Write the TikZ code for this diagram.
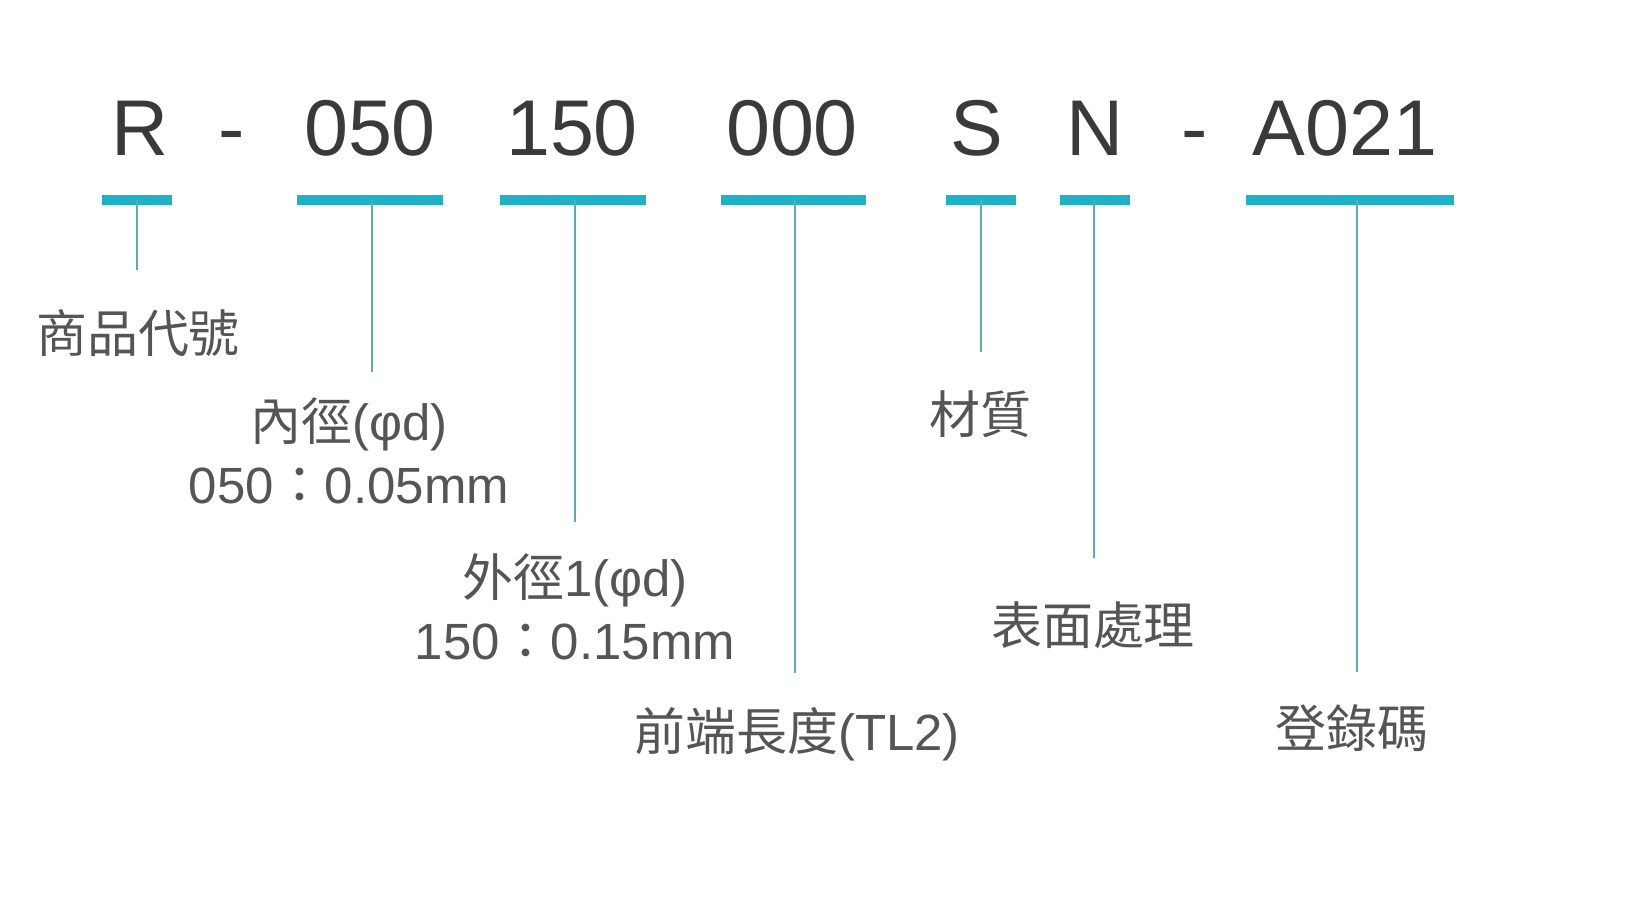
\documentclass[tikz,border=0pt]{standalone}
\usepackage{fontspec}
\setmainfont{Liberation Sans}
\newfontfamily\cjk{Noto Sans CJK TC}
\usetikzlibrary{positioning}
\definecolor{barcyan}{HTML}{1CB2C8}
\definecolor{tickteal}{HTML}{5BA9BA}
\definecolor{labelgray}{HTML}{555555}
\definecolor{codegray}{HTML}{3A3A3A}

\begin{document}
\begin{tikzpicture}[x = 0.02cm, y = -0.02cm,
  code/.style = {text = codegray, anchor = base, inner sep = 0pt, font = \fontsize{45}{54}\selectfont},
  bar/.style = {fill = barcyan, shape = rectangle, inner sep = 0pt, minimum height = 0.2cm},
  tick/.style = {draw = tickteal, line width = 1pt},
  label/.style = {text = labelgray, align = center, inner sep = 0pt, font = \fontsize{29}{36}\selectfont}]
\useasboundingbox (0,0) rectangle (1651,916);
% the code
\node[code] (cR)    at (140,155)  {R};
\node[code] (dash1) at (232,155)  {-};
\node[code] (c050)  at (370,155)  {050};
\node[code] (c150)  at (572,155)  {150};
\node[code] (c000)  at (792,155)  {000};
\node[code] (cS)    at (977,155)  {S};
\node[code] (cN)    at (1095,155) {N};
\node[code] (dash2) at (1195,155) {-};
\node[code] (cA021) at (1345,155) {A021};
% the bars under it
\node[bar, minimum width = 1.4cm]  (bR)    at (137,200)    {};
\node[bar, minimum width = 2.92cm] (b050)  at (370,200)    {};
\node[bar, minimum width = 2.92cm] (b150)  at (573,200)    {};
\node[bar, minimum width = 2.9cm]  (b000)  at (793.5,200)  {};
\node[bar, minimum width = 1.4cm]  (bS)    at (981,200)    {};
\node[bar, minimum width = 1.4cm]  (bN)    at (1095,200)   {};
\node[bar, minimum width = 4.16cm] (bA021) at (1350,200)   {};
% where the ticks end
\coordinate (eR)    at (137,270);
\coordinate (e050)  at (372,372);
\coordinate (e150)  at (575,522);
\coordinate (e000)  at (795,673);
\coordinate (eS)    at (981,352);
\coordinate (eN)    at (1094,558);
\coordinate (eA021) at (1357,672);
\draw[tick] (eR |- bR.center)       -- (eR);
\draw[tick] (e050 |- b050.center)   -- (e050);
\draw[tick] (e150 |- b150.center)   -- (e150);
\draw[tick] (e000 |- b000.center)   -- (e000);
\draw[tick] (eS |- bS.center)       -- (eS);
\draw[tick] (eN |- bN.center)       -- (eN);
\draw[tick] (eA021 |- bA021.center) -- (eA021);
% the labels
\node[label] (lR)    at (138,333)  {\cjk 商品代號};
\node[label] (l050)  at (349,451)  {{\cjk 內徑}(φd)\\050{\cjk ：}0.05mm};
\node[label] (l150)  at (575,607)  {{\cjk 外徑}1(φd)\\150{\cjk ：}0.15mm};
\node[label] (l000)  at (797,734)  {{\cjk 前端長度}(TL2)};
\node[label] (lS)    at (980,414)  {\cjk 材質};
\node[label] (lN)    at (1093,625) {\cjk 表面處理};
\node[label] (lA021) at (1352,728) {\cjk 登錄碼};
\end{tikzpicture}
\end{document}
